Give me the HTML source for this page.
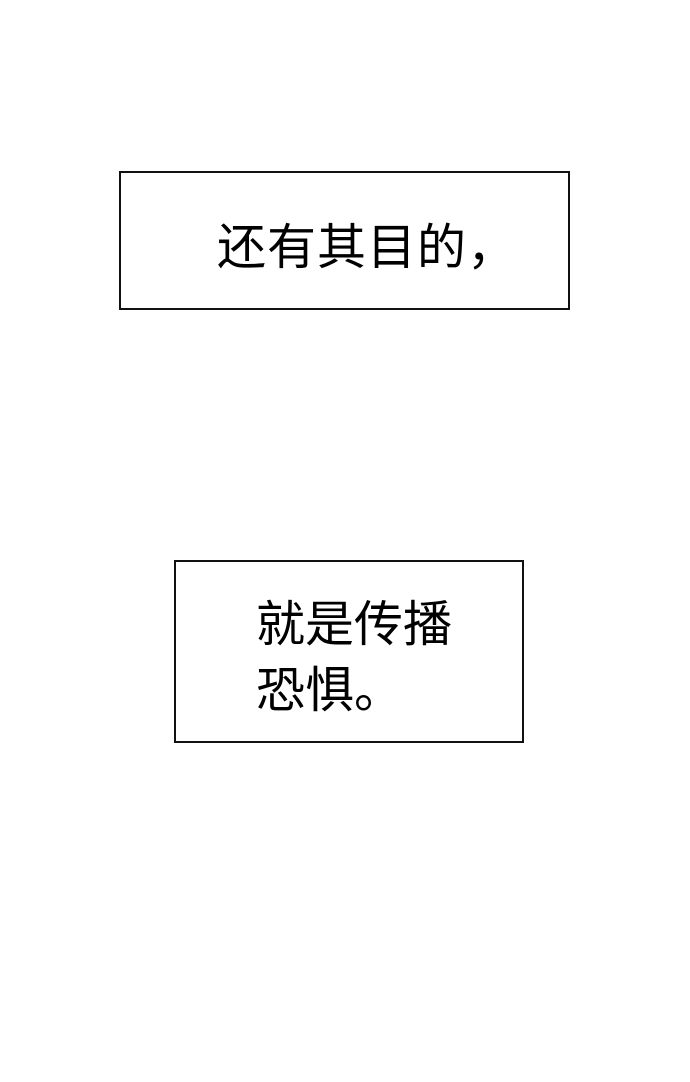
<!DOCTYPE html>
<html><head><meta charset="utf-8"><style>
html,body{margin:0;padding:0;background:#fff;width:690px;height:1082px;overflow:hidden;position:relative}
.b{position:absolute;border:2px solid #111;box-sizing:border-box;background:#fff}
.t{position:absolute;font-family:"Liberation Sans","Noto Sans CJK SC",sans-serif;font-size:49px;color:#000;white-space:nowrap;line-height:1}
</style></head><body>
<div class="b" style="left:119px;top:171px;width:451px;height:139px"></div>
<div class="t" style="left:217px;top:224px;letter-spacing:1px">还有其目的，</div>
<div class="b" style="left:174px;top:560px;width:350px;height:183px"></div>
<div class="t" style="left:256px;top:592px;line-height:66px">就是传播<br>恐惧。</div>
</body></html>
